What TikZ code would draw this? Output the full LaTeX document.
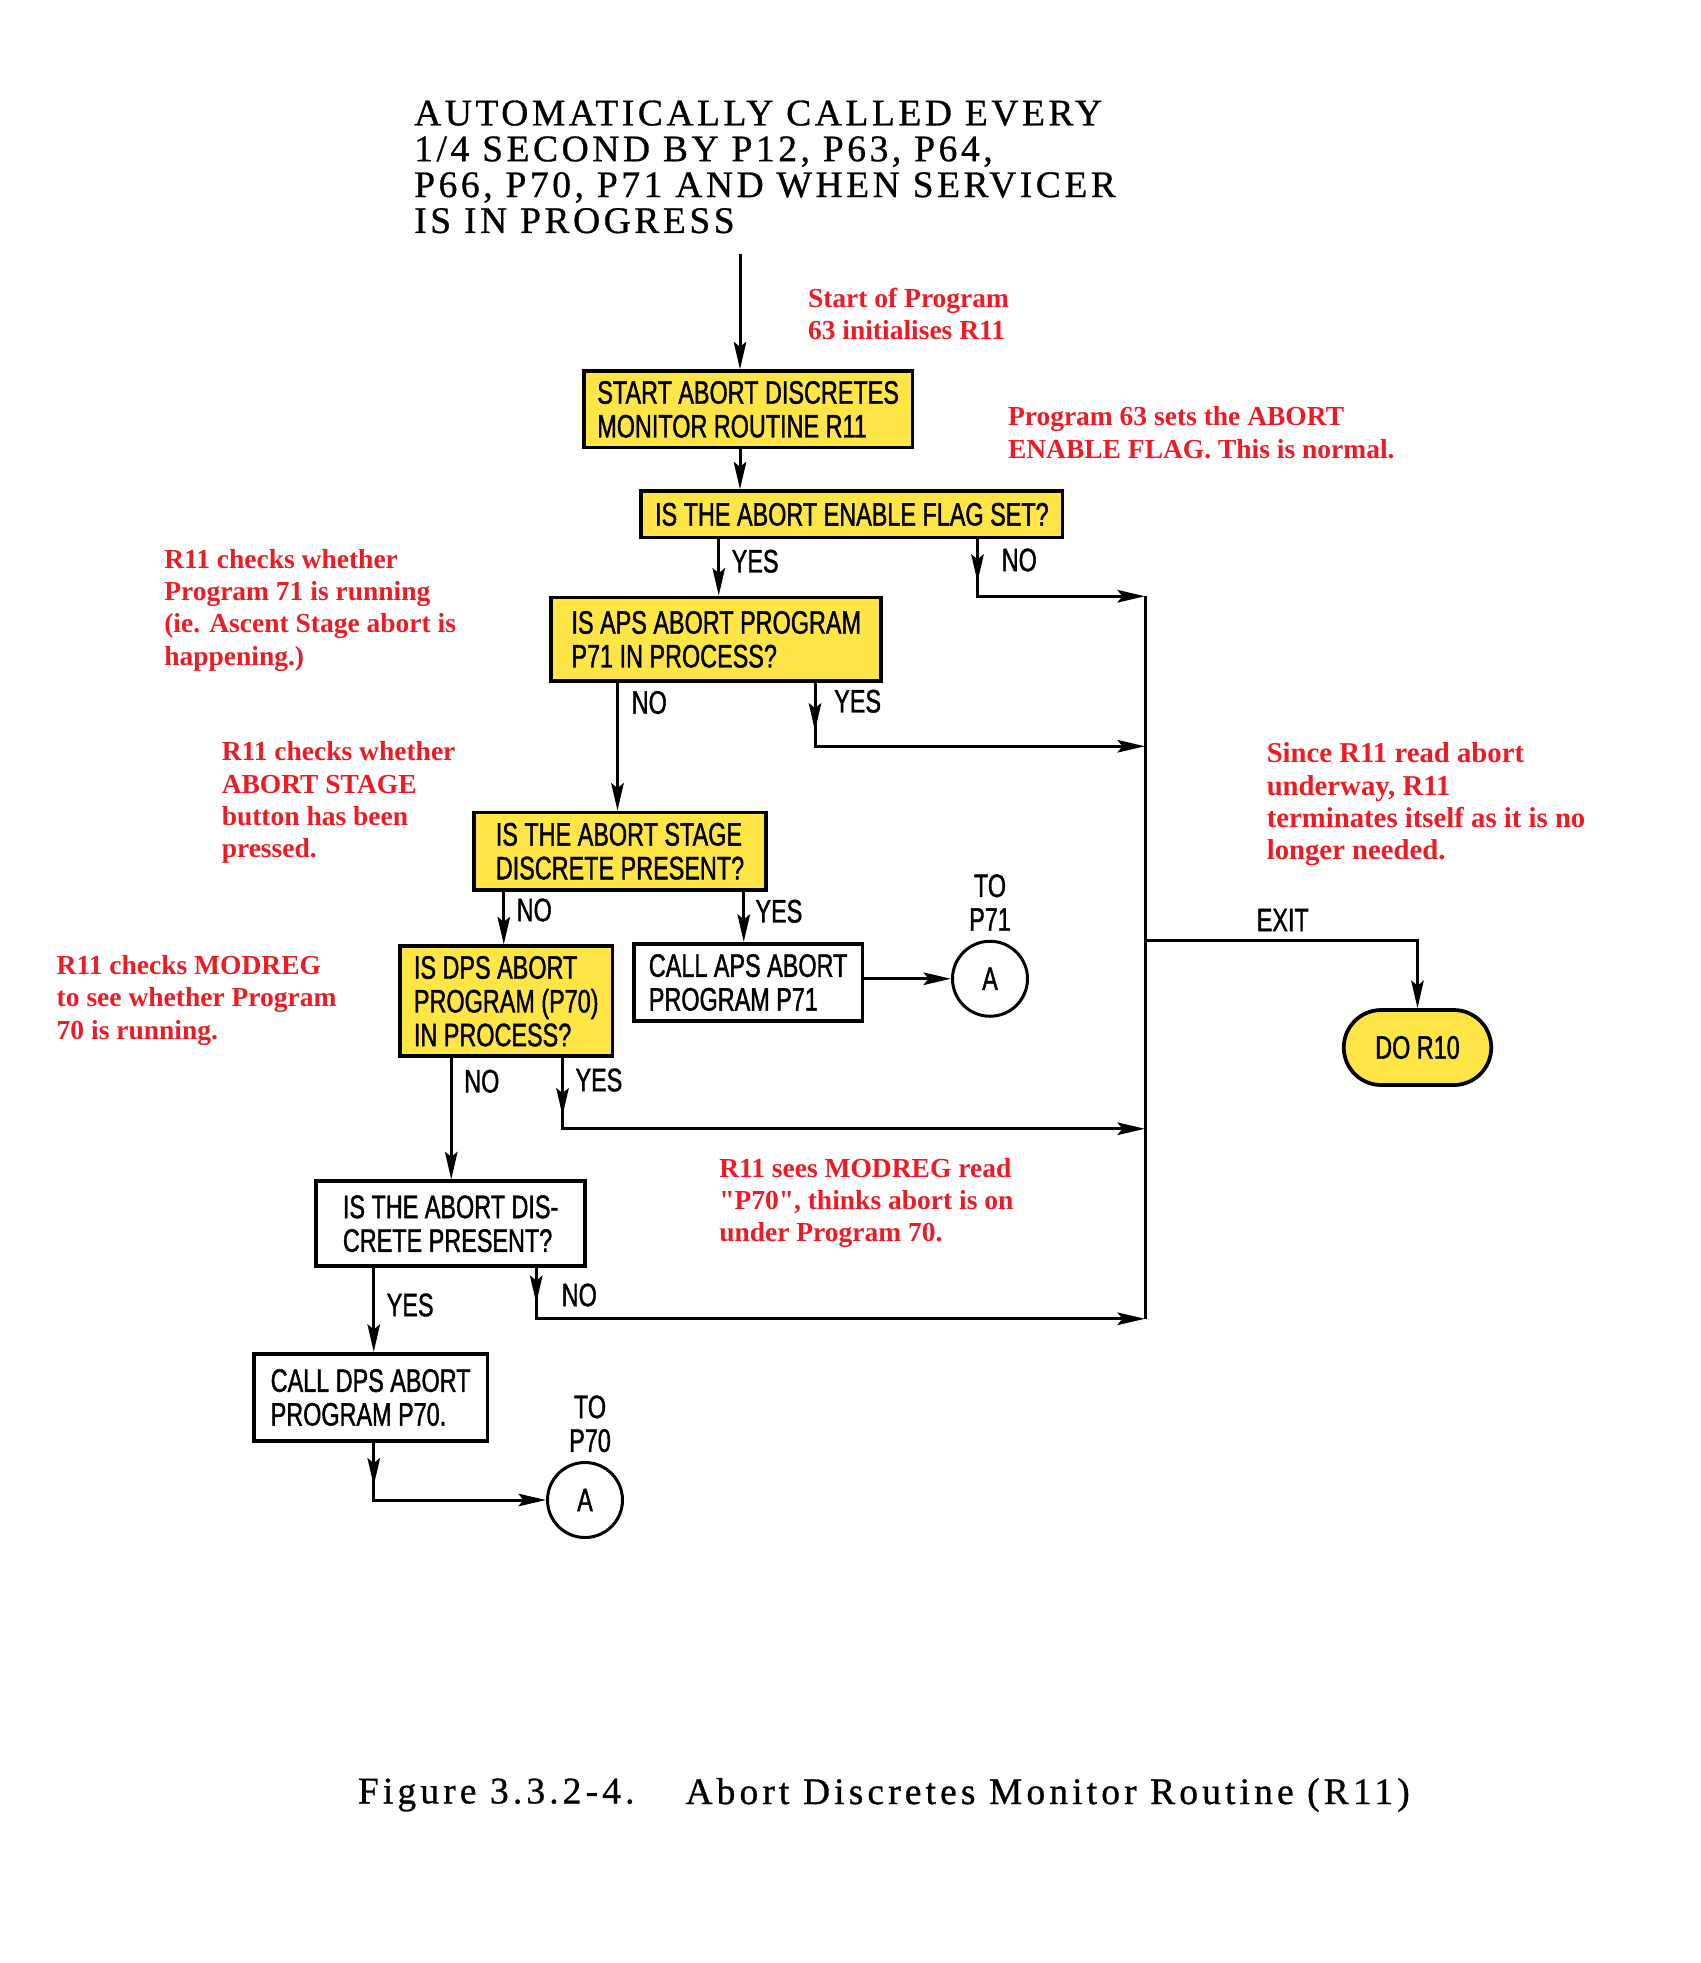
\documentclass[tikz,border=0pt]{standalone}
\usepackage{fontspec}
\setmainfont{Liberation Serif}
\newfontfamily\letfont[FakeStretch=0.72,FakeBold=1.2]{Liberation Sans}
\newfontfamily\hdfont[LetterSpace=9.5,FakeBold=0.8]{Liberation Serif}
\newfontfamily\capfont[LetterSpace=11,FakeBold=0.8]{Liberation Serif}
\newfontfamily\notefont[Ligatures=TeXOff]{Liberation Serif}
\usetikzlibrary{arrows.meta,decorations.markings}
\definecolor{boxyellow}{RGB}{255,230,70}
\definecolor{notered}{RGB}{237,28,36}
\begin{document}
\begin{tikzpicture}[x=0.5pt,y=-0.5pt,
  conn/.style={line width=1.2pt},
  arr/.style={conn,-{Stealth[length=11pt,width=5pt,inset=2pt]}},
  midarr/.style={postaction={decorate},decoration={markings,mark=at position #1 with {\arrow{Stealth[length=11pt,width=5pt,inset=2pt]}}}},
  fbox/.style={draw,line width=1.5pt,align=left,inner sep=0pt,font=\letfont\fontsize{13pt}{13.5pt}\selectfont},
  ybox/.style={fbox,fill=boxyellow},
  wbox/.style={fbox,fill=white},
  wh/.style 2 args={minimum width=#1,minimum height=#2},
  lab/.style={inner sep=0pt,font=\letfont\fontsize{13pt}{13.5pt}\selectfont},
  conn2/.style={circle,draw,line width=1.2pt,minimum size=30pt,inner sep=0pt,font=\letfont\fontsize{13pt}{13.5pt}\selectfont},
  note/.style={inner sep=0pt,align=left,anchor=north west,text=notered,font=\notefont\fontsize{11pt}{12.9pt}\selectfont\bfseries},
]
\useasboundingbox (0,0) rectangle (1360.8,1570.4);

% header
\node[anchor=north west,inner sep=0pt,align=left,font=\hdfont\fontsize{15pt}{14.35pt}\selectfont] (hdr) at (331,80)
  {AUTOMATICALLY CALLED EVERY\\1/4 SECOND BY P12, P63, P64,\\P66, P70, P71 AND WHEN SERVICER\\IS IN PROGRESS};

% boxes
\node[ybox,wh={131.5pt}{30.5pt}] (start) at (598.5,327.5) {START ABORT DISCRETES\\MONITOR ROUTINE R11};
\node[ybox,wh={168.5pt}{18.5pt}] (flag) at (681.5,411.5) {IS THE ABORT ENABLE FLAG SET?};
\node[ybox,wh={132pt}{33.5pt}] (aps) at (573,511.5) {IS APS ABORT PROGRAM\\P71 IN PROCESS?};
\node[ybox,wh={117pt}{31pt}] (stage) at (496,681) {IS THE ABORT STAGE\\DISCRETE PRESENT?};
\node[ybox,wh={85pt}{44pt}] (dps) at (405,801) {IS DPS ABORT\\PROGRAM (P70)\\IN PROCESS?};
\node[wbox,wh={91.5pt}{31pt}] (callaps) at (598.5,786) {CALL APS ABORT\\PROGRAM P71};
\node[wbox,wh={107.5pt}{34pt}] (disc) at (360.5,979) {IS THE ABORT DIS-\\CRETE PRESENT?};
\node[wbox,wh={93.5pt}{35pt}] (calldps) at (296.5,1118) {CALL DPS ABORT\\PROGRAM P70.};
\node[ybox,wh={59pt}{30pt},rounded corners=15pt,align=center] (dor) at (1134,838) {DO R10};
\node[conn2] (a1) at (792,783) {A};
\node[conn2] (a2) at (468,1200) {A};

% labels
\node[lab,anchor=west] (ly1) at (585,449) {YES};
\node[lab,anchor=west] (ln1) at (801,448) {NO};
\node[lab,anchor=west] (ln2) at (505,562) {NO};
\node[lab,anchor=west] (ly2) at (667,561) {YES};
\node[lab,anchor=west] (ln3) at (413,728) {NO};
\node[lab,anchor=west] (ly3) at (604,729) {YES};
\node[lab,align=center] (to71) at (792,722) {TO\\P71};
\node[lab,anchor=west] (ln4) at (371,865) {NO};
\node[lab,anchor=west] (ly4) at (460,864) {YES};
\node[lab,anchor=west] (ly5) at (309,1044) {YES};
\node[lab,anchor=west] (ln5) at (449,1036) {NO};
\node[lab,align=center] (to70) at (472,1139) {TO\\P70};
\node[lab,anchor=west] (lexit) at (1005,736) {EXIT};

% connectors
\coordinate (entry) at (592,203);
\coordinate (busA) at (916,477);
\coordinate (busB) at (916,597);
\coordinate (busE) at (916,752);
\coordinate (busC) at (916,903);
\coordinate (busD) at (916,1055);
\coordinate (cYes1) at (575,0);
\coordinate (cNo1) at (782,0);
\coordinate (cNo2) at (494,0);
\coordinate (cYes2) at (652,0);
\coordinate (cNo3) at (403,0);
\coordinate (cYes3) at (595,0);
\coordinate (cNo4) at (361,0);
\coordinate (cYes4) at (450,0);
\coordinate (cYes5) at (299,0);
\coordinate (cNo5) at (429,0);

\draw[arr] (entry) -- (entry |- start.north);
\draw[arr] (start.south -| entry) -- (flag.north -| entry);
\draw[arr] (flag.south -| cYes1) -- (aps.north -| cYes1);
\draw[conn] (busA) -- (busD);
\draw[arr,midarr=17pt] (flag.south -| cNo1) |- (busA);
\draw[arr,midarr=19pt] (aps.south -| cYes2) |- (busB);
\draw[arr] (aps.south -| cNo2) -- (stage.north -| cNo2);
\draw[arr] (stage.south -| cNo3) -- (dps.north -| cNo3);
\draw[arr] (stage.south -| cYes3) -- (callaps.north -| cYes3);
\draw[arr] (callaps.east |- a1) -- (a1.west);
\draw[arr] (dps.south -| cNo4) -- (disc.north -| cNo4);
\draw[arr,midarr=23pt] (dps.south -| cYes4) |- (busC);
\draw[arr] (disc.south -| cYes5) -- (calldps.north -| cYes5);
\draw[arr,midarr=14pt] (disc.south -| cNo5) |- (busD);
\draw[arr,midarr=17pt] (calldps.south -| cYes5) |- (a2.west);
\draw[arr] (busE) -| (dor.north);

% notes
\node[note] (n1) at (646,230) {Start of Program\\63 initialises R11};
\node[note] (n2) at (806,325) {Program 63 sets the ABORT\\ENABLE FLAG. This is normal.};
\node[note] (n3) at (131,439) {R11 checks whether\\Program 71 is running\\(ie. Ascent Stage abort is\\happening.)};
\node[note] (n4) at (177,593) {R11 checks whether\\ABORT STAGE\\button has been\\pressed.};
\node[note] (n5) at (45,764) {R11 checks MODREG\\to see whether Program\\70 is running.};
\node[note] (n6) at (575,926) {R11 sees MODREG read\\"P70", thinks abort is on\\under Program 70.};
\node[note,font=\notefont\fontsize{11.5pt}{12.9pt}\selectfont\bfseries] (n7) at (1013,594) {Since R11 read abort\\underway, R11\\terminates itself as it is no\\longer needed.};

% caption
\node[anchor=west,inner sep=0pt,font=\capfont\fontsize{15pt}{15pt}\selectfont] (cap1) at (286,1436) {Figure 3.3.2-4.};
\node[anchor=west,inner sep=0pt,font=\capfont\fontsize{15pt}{15pt}\selectfont] (cap2) at (548,1436) {Abort Discretes Monitor Routine (R11)};
\end{tikzpicture}
\end{document}
